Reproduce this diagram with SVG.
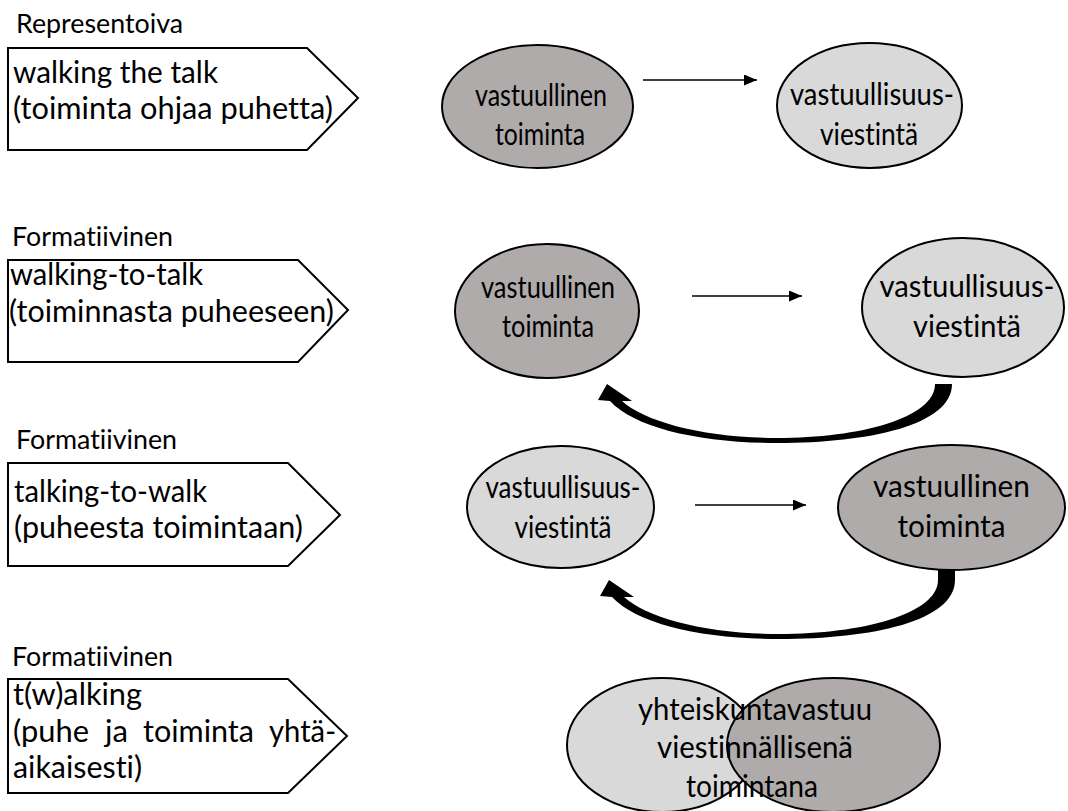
<svg xmlns="http://www.w3.org/2000/svg" width="1068" height="811" viewBox="0 0 1068 811">
<style>
text{font-variant-ligatures:none;font-feature-settings:"liga" 0,"clig" 0,"dlig" 0}
.t{font-family:Lato,"Liberation Sans",sans-serif;font-size:30px;fill:#000}
.lb{font-family:Lato,"Liberation Sans",sans-serif;font-size:26.5px;fill:#000}
.m{text-anchor:middle}
.box{fill:#fff;stroke:#000;stroke-width:2}
.dk{fill:#AFABAB;stroke:#000;stroke-width:2}
.lt{fill:#D9D9D9;stroke:#000;stroke-width:2}
.ln{stroke:#000;stroke-width:1.5;fill:none;marker-end:url(#ah)}
.cv{fill:#000;stroke:none}
</style>
<defs>
<marker id="ah" markerWidth="13" markerHeight="11" refX="13" refY="5.5" orient="auto" markerUnits="userSpaceOnUse" viewBox="0 0 13 11">
<path d="M0,0 L13,5.5 L0,11 Z" fill="#000"/>
</marker>
</defs>
<rect width="1068" height="811" fill="#fff"/>

<g id="connectors">
<line class="ln" x1="643" y1="80" x2="757" y2="80"/>
<line class="ln" x1="692" y1="296" x2="802" y2="296"/>
<line class="ln" x1="695" y1="505" x2="806" y2="505"/>
<path class="cv" d="M952,384 C952,425 870,443 777,443 C700,443 635,428 610,401 L598,400 L607,384 L632,401 L622,401 C645,422 705,438 777,438 C860,438 935,418 935,384 Z"/>
<path class="cv" d="M955,566 L955,580 C955,621 873,639 779,639 C702,639 637,624 612,597 L600,596 L609,580 L634,597 L624,597 C647,618 707,634 779,634 C862,634 938,614 938,580 L938,566 Z"/>
</g>

<g id="label-representoiva"><text class="lb" x="16" y="33" textLength="167" lengthAdjust="spacingAndGlyphs">Representoiva</text></g>
<g id="arrowbox-1">
<polygon class="box" points="8,48 307,48 358,98 307,150 8,150"/>
<text class="t" x="13" y="83" textLength="205" lengthAdjust="spacingAndGlyphs">walking the talk</text>
<text class="t" x="13" y="119" textLength="320" lengthAdjust="spacingAndGlyphs">(toiminta ohjaa puhetta)</text>
</g>

<g id="label-formatiivinen-1"><text class="lb" x="12" y="246" textLength="161" lengthAdjust="spacingAndGlyphs">Formatiivinen</text></g>
<g id="arrowbox-2">
<polygon class="box" points="8,260 298,260 348,310 298,362 8,362"/>
<text class="t" x="10" y="285" textLength="193" lengthAdjust="spacingAndGlyphs">walking-to-talk</text>
<text class="t" x="9" y="322" textLength="325" lengthAdjust="spacingAndGlyphs">(toiminnasta puheeseen)</text>
</g>

<g id="label-formatiivinen-2"><text class="lb" x="16" y="449" textLength="161" lengthAdjust="spacingAndGlyphs">Formatiivinen</text></g>
<g id="arrowbox-3">
<polygon class="box" points="8,463 288,463 340,515 288,566 8,566"/>
<text class="t" x="14" y="502" textLength="193" lengthAdjust="spacingAndGlyphs">talking-to-walk</text>
<text class="t" x="14" y="538" textLength="289" lengthAdjust="spacingAndGlyphs">(puheesta toimintaan)</text>
</g>

<g id="label-formatiivinen-3"><text class="lb" x="12" y="666" textLength="161" lengthAdjust="spacingAndGlyphs">Formatiivinen</text></g>
<g id="arrowbox-4">
<polygon class="box" points="8,679 288,679 347,736 288,793 8,793"/>
<text class="t" x="13" y="705" textLength="129" lengthAdjust="spacingAndGlyphs">t(w)alking</text>
<text class="t" y="742"><tspan x="13" textLength="76" lengthAdjust="spacingAndGlyphs">(puhe</tspan><tspan x="105" textLength="23" lengthAdjust="spacingAndGlyphs">ja</tspan><tspan x="143" textLength="111" lengthAdjust="spacingAndGlyphs">toiminta</tspan><tspan x="269" textLength="67" lengthAdjust="spacingAndGlyphs">yhtä-</tspan></text>
<text class="t" x="13" y="778" textLength="129" lengthAdjust="spacingAndGlyphs">aikaisesti)</text>
</g>

<g id="r1-toiminta">
<ellipse class="dk" cx="537.5" cy="106.5" rx="95.5" ry="61.5"/>
<text class="t m" x="541" y="106" textLength="132" lengthAdjust="spacingAndGlyphs">vastuullinen</text>
<text class="t m" x="540" y="145" textLength="90" lengthAdjust="spacingAndGlyphs">toiminta</text>
</g>
<g id="r1-viestinta">
<ellipse class="lt" cx="869.5" cy="105.5" rx="92.5" ry="62.5"/>
<text class="t m" x="872" y="105" textLength="164" lengthAdjust="spacingAndGlyphs">vastuullisuus-</text>
<text class="t m" x="869" y="145" textLength="98" lengthAdjust="spacingAndGlyphs">viestintä</text>
</g>

<g id="r2-toiminta">
<ellipse class="dk" cx="547" cy="311" rx="92" ry="67"/>
<text class="t m" x="548" y="298" textLength="134" lengthAdjust="spacingAndGlyphs">vastuullinen</text>
<text class="t m" x="548" y="337" textLength="92" lengthAdjust="spacingAndGlyphs">toiminta</text>
</g>
<g id="r2-viestinta">
<ellipse class="lt" cx="963" cy="307.5" rx="101" ry="69.5"/>
<text class="t m" x="967" y="297" textLength="175" lengthAdjust="spacingAndGlyphs">vastuullisuus-</text>
<text class="t m" x="967" y="337" textLength="108" lengthAdjust="spacingAndGlyphs">viestintä</text>
</g>

<g id="r3-viestinta">
<ellipse class="lt" cx="560.5" cy="507" rx="93.5" ry="61"/>
<text class="t m" x="563" y="498" textLength="155" lengthAdjust="spacingAndGlyphs">vastuullisuus-</text>
<text class="t m" x="563" y="538" textLength="97" lengthAdjust="spacingAndGlyphs">viestintä</text>
</g>
<g id="r3-toiminta">
<ellipse class="dk" cx="951.5" cy="507.5" rx="113.5" ry="62.5"/>
<text class="t m" x="951.5" y="497" textLength="157" lengthAdjust="spacingAndGlyphs">vastuullinen</text>
<text class="t m" x="951.5" y="537" textLength="108" lengthAdjust="spacingAndGlyphs">toiminta</text>
</g>

<g id="r4-venn">
<ellipse class="lt" cx="662" cy="745" rx="95" ry="67"/>
<ellipse class="dk" cx="833.5" cy="745" rx="106.5" ry="67"/>
<text class="t m" x="755" y="720" textLength="234" lengthAdjust="spacingAndGlyphs">yhteiskuntavastuu</text>
<text class="t m" x="755" y="758" textLength="196" lengthAdjust="spacingAndGlyphs">viestinnällisenä</text>
<text class="t m" x="752" y="797" textLength="132" lengthAdjust="spacingAndGlyphs">toimintana</text>
</g>
</svg>
